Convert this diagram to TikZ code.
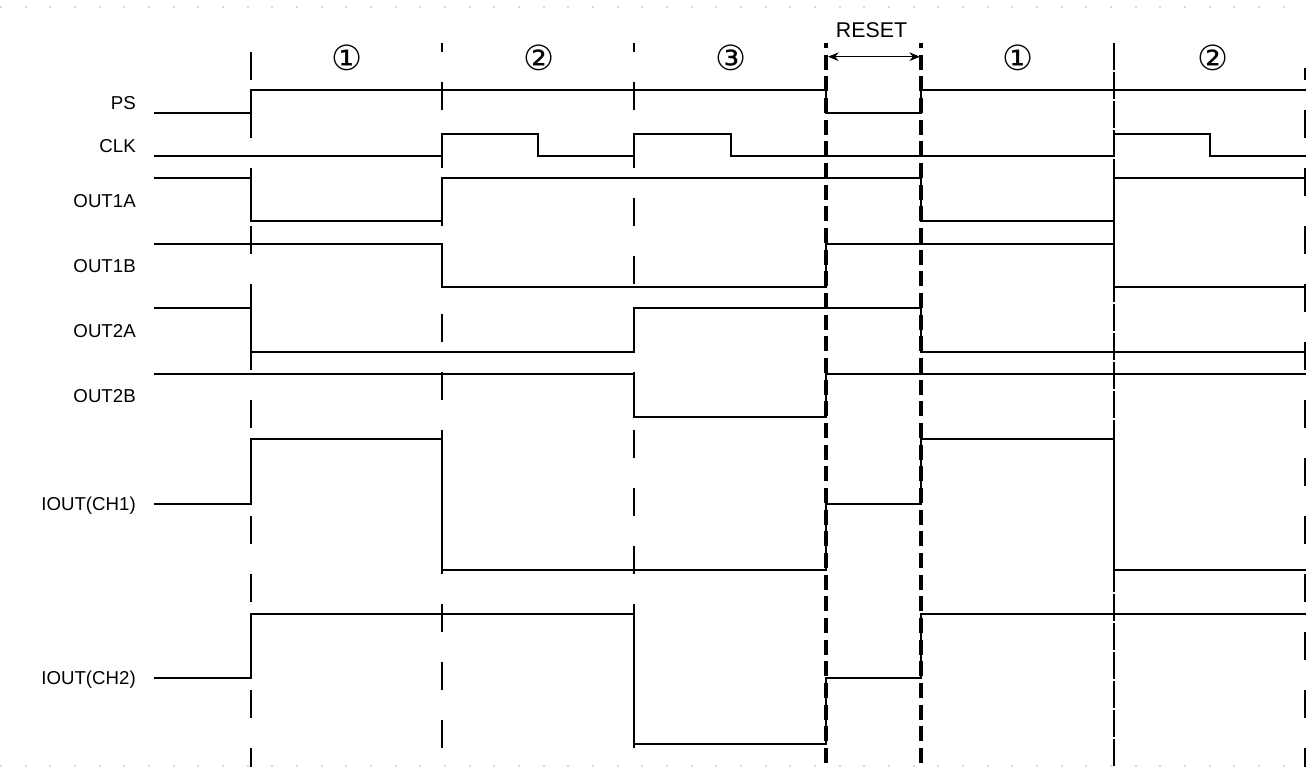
\documentclass[tikz,border=0pt]{standalone}
\usepackage{fontspec}
\setmainfont{Liberation Sans}
\newfontfamily\circfont{DejaVu Sans}
\usetikzlibrary{arrows.meta}

\begin{document}
\begin{tikzpicture}
  [
    x=0.75pt, y=-0.75pt,
    sig/.style={line width=1.5pt, line join=miter},
    slot/.style={line width=1.9pt, dash pattern=on 21pt off 22.5pt},
    rstedge/.style={line width=2.6pt, dash pattern=on 11.25pt off 5pt, dash phase=7.5pt},
    thinedge/.style={line width=1.1pt, dash pattern=on 20.25pt off 1.5pt},
    lbl/.style={anchor=base east, inner sep=0pt, font=\fontsize{14pt}{14pt}\selectfont},
    num/.style={inner sep=0pt, font=\circfont\fontsize{26pt}{26pt}\selectfont}
  ]
    \useasboundingbox (0,0) rectangle (1306,767);
    % faint dotted border rows
    \draw [gray!30, line width=1pt, dash pattern=on 1.5pt off 17pt] (0,7) -- (1306,7);
    \draw [gray!30, line width=1pt, dash pattern=on 1.5pt off 17pt] (0,766) -- (1306,766);

    % =========================================================================
    % LABELS
    % =========================================================================
    \node [lbl] (ps) at (136,109) {PS};
    \node [lbl] (clk) at (136,152.7) {CLK};
    \node [lbl] (out1a) at (136,207) {OUT1A};
    \node [lbl] (out1b) at (136,272) {OUT1B};
    \node [lbl] (out2a) at (136,337.3) {OUT2A};
    \node [lbl] (out2b) at (136,402) {OUT2B};
    \node [lbl] (iout1) at (136,510.5) {IOUT(CH1)};
    \node [lbl] (iout2) at (136,684.5) {IOUT(CH2)};

    \node [num] (s1) at (347,58) {①};
    \node [num] (s2) at (539,58) {②};
    \node [num] (s3) at (731,58) {③};
    \node [num] (s4) at (1018,58) {①};
    \node [num] (s5) at (1213,58) {②};

    \node [anchor=base, inner sep=0pt, font=\fontsize{16pt}{16pt}\selectfont] (reset) at (871.5,38) {RESET};

    % =========================================================================
    % TIME MARKERS
    % =========================================================================
    \coordinate (rstL) at (828,56.7);
    \coordinate (rstR) at (920,56.7);
    \draw [slot] (251,52) -- (251,767);
    \draw [slot, dash phase=14.25pt] (442,43) -- (442,767);
    \draw [slot, dash phase=14.25pt] (634,43) -- (634,767);
    \draw [rstedge] (826,43) -- (826,767);
    \draw [rstedge] (921,43) -- (921,767);
    \draw [thinedge] (1114,43) -- (1114,767);
    \draw [slot, line width=1.5pt, dash phase=12pt] (1305,68) -- (1305,767);
    \draw [{Stealth[length=8pt,width=6.5pt]}-{Stealth[length=8pt,width=6.5pt]}, line width=0.8pt] (rstL) -- (rstR);

    % =========================================================================
    % WAVEFORMS
    % =========================================================================
    % --- PS / CLK ---
    \draw [sig] (154,112.7) -- (251,112.7) -- (251,90) -- (826,90) -- (826,112.7)
      -- (921,112.7) -- (921,90) -- (1306,90);
    \draw [sig] (154,156) -- (442,156) -- (442,134) -- (538,134) -- (538,156)
      -- (634,156) -- (634,134) -- (731,134) -- (731,156) -- (1114,156)
      -- (1114,134) -- (1210,134) -- (1210,156) -- (1306,156);
    % --- OUTPUTS ---
    \draw [sig] (154,177.7) -- (251,177.7) -- (251,221) -- (442,221) -- (442,177.7)
      -- (921,177.7) -- (921,221) -- (1114,221) -- (1114,177.7) -- (1306,177.7);
    \draw [sig] (154,243.7) -- (442,243.7) -- (442,286.7) -- (826,286.7) -- (826,243.7)
      -- (1114,243.7) -- (1114,286.7) -- (1306,286.7);
    \draw [sig] (154,308.3) -- (251,308.3) -- (251,351.7) -- (634,351.7) -- (634,308.3)
      -- (921,308.3) -- (921,351.7) -- (1306,351.7);
    \draw [sig] (154,373.7) -- (634,373.7) -- (634,417.3) -- (826,417.3) -- (826,373.7)
      -- (1306,373.7);
    % --- CURRENTS ---
    \draw [sig] (154,504.3) -- (251,504.3) -- (251,439.3) -- (442,439.3) -- (442,570)
      -- (826,570) -- (826,504.3) -- (921,504.3) -- (921,439.3) -- (1114,439.3)
      -- (1114,570) -- (1306,570);
    \draw [sig] (154,678.3) -- (251,678.3) -- (251,613.7) -- (634,613.7) -- (634,743.7)
      -- (826,743.7) -- (826,678.3) -- (921,678.3) -- (921,613.7) -- (1306,613.7);

\end{tikzpicture}
\end{document}
